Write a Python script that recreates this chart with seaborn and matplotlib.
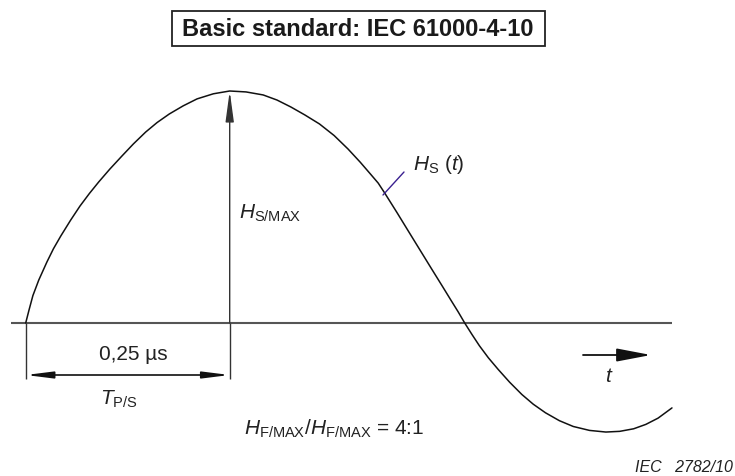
import matplotlib
matplotlib.use("Agg")
import matplotlib.pyplot as plt
import matplotlib.patches as mpatches
import seaborn as sns
import pandas as pd

# ---- data (time in µs, field normalised to H_S/MAX) ----
t_us = [0.000, 0.004, 0.0088, 0.016, 0.026, 0.034, 0.043, 0.055, 0.0665, 0.078,
        0.0895, 0.103, 0.118, 0.132, 0.147, 0.161, 0.176, 0.193, 0.210, 0.230,
        0.250, 0.270, 0.291, 0.308, 0.325, 0.342, 0.360, 0.378, 0.395, 0.410,
        0.423, 0.432, 0.440, 0.455, 0.470, 0.484, 0.498, 0.510, 0.521, 0.530,
        0.538, 0.547, 0.556, 0.567, 0.579, 0.593, 0.608, 0.622, 0.637, 0.654,
        0.671, 0.691, 0.711, 0.728, 0.745, 0.760, 0.775, 0.792]
h_s = [0.000, 0.055, 0.118, 0.185, 0.263, 0.320, 0.375, 0.443, 0.504, 0.558,
       0.608, 0.663, 0.720, 0.772, 0.823, 0.864, 0.901, 0.936, 0.966, 0.988,
       1.000, 0.996, 0.983, 0.961, 0.931, 0.897, 0.858, 0.808, 0.750, 0.693,
       0.640, 0.603, 0.560, 0.476, 0.390, 0.310, 0.230, 0.162, 0.099, 0.048,
       0.000, -0.050, -0.098, -0.150, -0.200, -0.255, -0.308, -0.350, -0.387, -0.421,
       -0.446, -0.463, -0.470, -0.467, -0.456, -0.437, -0.410, -0.366]

title_text = "Basic standard: IEC 61000-4-10"
period_label = "0,25 \u00b5s"
ratio_label = r"$\mathit{H}_{\mathrm{F/MAX}}$/$\mathit{H}_{\mathrm{F/MAX}}$ = 4:1"
hmax_label = r"$\mathit{H}_{\mathrm{S/MAX}}$"
hs_label = r"$\mathit{H}_{\mathrm{S}}$ ($\mathit{t}$)"
tps_label = r"$\mathit{T}_{\mathrm{P/S}}$"
t_label = r"$\mathit{t}$"
fig_id = "IEC   2782/10"

df = pd.DataFrame({"t": t_us, "H": h_s})

sns.set_theme(style="white")
plt.rcParams["font.family"] = ["Liberation Sans", "DejaVu Sans"]
plt.rcParams["mathtext.fontset"] = "custom"
plt.rcParams["mathtext.rm"] = "Liberation Sans"
plt.rcParams["mathtext.it"] = "Liberation Sans:italic"
plt.rcParams["mathtext.bf"] = "Liberation Sans:bold"

W, H = 735, 477
fig = plt.figure(figsize=(W / 100, H / 100), dpi=100)
ax = fig.add_axes([0, 0, 1, 1])
ax.set_axis_off()

# layout mapping (pixel -> data units)
X0, XS = 25.7, 816.0   # px of t=0, px per µs
Y0, YS = 324.0, 232.0  # px of H=0, px per unit
def X(px):
    return (px - X0) / XS
def Y(py):
    return (Y0 - py) / YS

ax.set_xlim(X(0), X(W))
ax.set_ylim(Y(H), Y(0))

# curve
sns.lineplot(data=df, x="t", y="H", sort=False, estimator=None,
             color="#111111", lw=1.1, ax=ax)

# baseline
ax.hlines(0, X(11), X(672), color="#555555", lw=1.5, zorder=1)

t_peak = df.loc[df["H"].idxmax(), "t"]
h_peak = df["H"].max()
t_start = df["t"].iloc[0]

# vertical line with arrow to peak
ax.annotate("", xy=(t_peak, h_peak), xytext=(t_peak, 0),
            arrowprops=dict(arrowstyle="-|>,head_length=18.5,head_width=2.5",
                            mutation_scale=1, color="#333333", lw=1.0,
                            shrinkA=0, shrinkB=0))
# extension lines
ax.vlines([t_start, t_peak], Y(380), 0, color="#333333", lw=1.0)
# dimension arrow
ax.annotate("", xy=(t_start, Y(376)), xytext=(t_peak, Y(376)),
            arrowprops=dict(arrowstyle="<|-|>,head_length=16,head_width=2.0",
                            mutation_scale=1, color="#111111", lw=1.2,
                            shrinkA=0, shrinkB=0))
# time arrow
ax.annotate("", xy=(X(651), Y(356)), xytext=(X(583), Y(356)),
            arrowprops=dict(arrowstyle="-|>,head_length=21,head_width=4",
                            mutation_scale=1, color="#111111", lw=1.3,
                            shrinkA=0, shrinkB=0))
# leader for H_S(t)
ax.plot([X(383), X(404)], [Y(196), Y(173)], color="#3a2090", lw=1.0)

fs = 15
ax.text(X(133), Y(355), period_label, fontsize=fs, ha="center", va="center", color="#222222")
ax.text(X(239), Y(213), hmax_label, fontsize=fs, ha="left", va="center", color="#222222")
ax.text(X(413), Y(165), hs_label, fontsize=fs, ha="left", va="center", color="#222222")
ax.text(X(100), Y(399), tps_label, fontsize=fs, ha="left", va="center", color="#222222")
ax.text(X(244), Y(429), ratio_label, fontsize=fs, ha="left", va="center", color="#222222")
ax.text(X(609), Y(376), t_label, fontsize=fs, ha="center", va="center", color="#222222")
ax.text(X(733), Y(467), fig_id, fontsize=11.5, style="italic", ha="right", va="center",
        color="#222222")

# title box
fig.text(358 / W, 1 - 30 / H, title_text, fontsize=17, fontweight="bold",
         ha="center", va="center", color="#1a1a1a")
fig.patches.append(mpatches.Rectangle((172 / W, 1 - 47 / H), 373 / W, 35 / H,
                                      transform=fig.transFigure, fill=False,
                                      edgecolor="#222222", lw=1.3))

fig.savefig("out.png", dpi=100, facecolor="white")
